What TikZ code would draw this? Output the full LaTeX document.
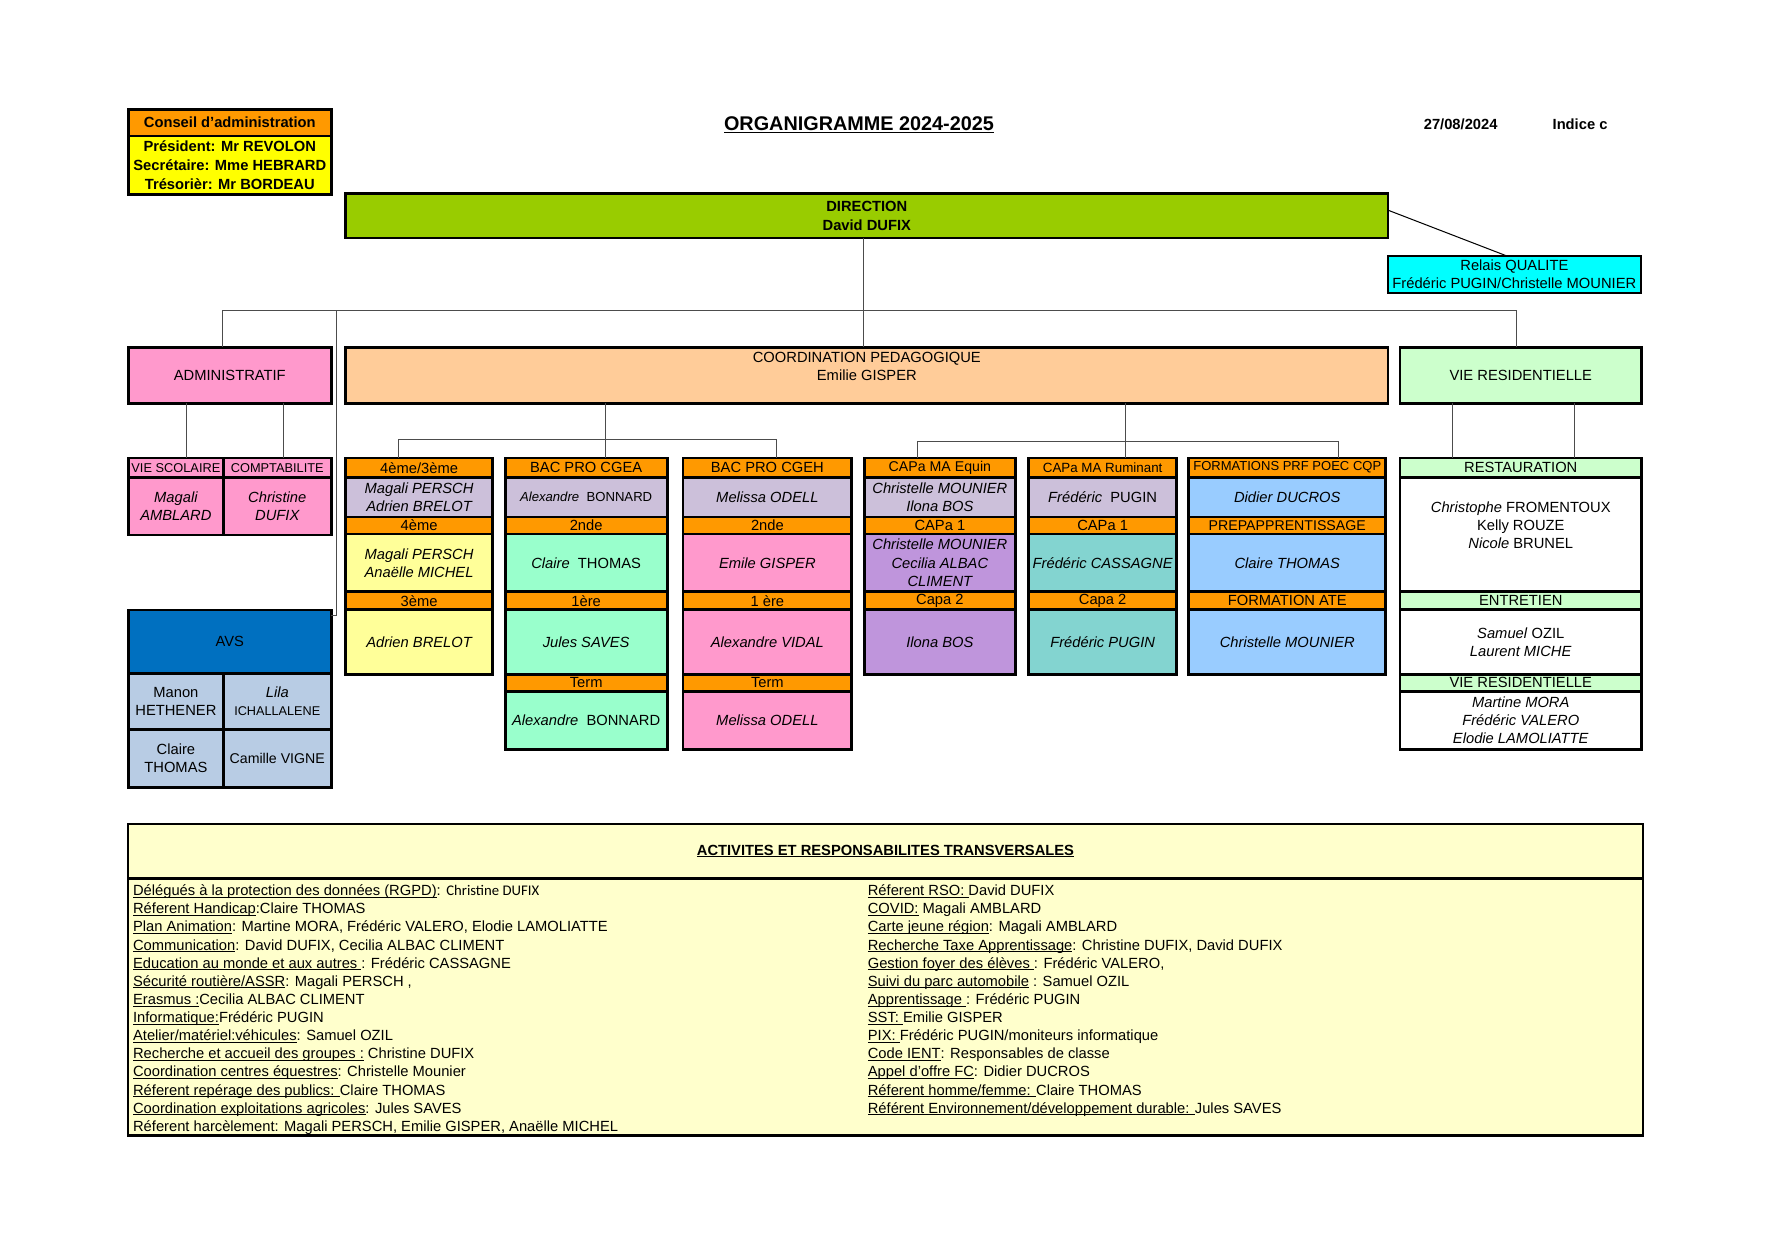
\documentclass[tikz,border=0pt]{standalone}
\usepackage{fontspec}
\setmainfont{Liberation Sans}
\newfontfamily\carlito{Carlito}
\usetikzlibrary{positioning}

\definecolor{orangeT}{HTML}{FF9900}
\definecolor{jauneC}{HTML}{FFFF00}
\definecolor{vertD}{HTML}{99CC00}
\definecolor{cyanQ}{HTML}{00FFFF}
\definecolor{roseA}{HTML}{FF99CC}
\definecolor{pecheC}{HTML}{FFCC99}
\definecolor{vertR}{HTML}{CCFFCC}
\definecolor{lavande}{HTML}{CCC0DA}
\definecolor{jauneP}{HTML}{FFFF99}
\definecolor{menthe}{HTML}{99FFCC}
\definecolor{mauve}{HTML}{BF95DC}
\definecolor{sarcelle}{HTML}{83D4D0}
\definecolor{bleuC}{HTML}{99CCFF}
\definecolor{bleuF}{HTML}{0070C0}
\definecolor{bleuG}{HTML}{B8CCE4}
\definecolor{jauneL}{HTML}{FFFFCC}

\newcommand{\taille}[1]{\fontsize{#1}{16}\selectfont}
\newcommand{\souligne}[1]{\leavevmode\setbox0\hbox{#1}\rlap{\rule[-1.8pt]{\wd0}{0.8pt}}\box0\relax}

\begin{document}
\begin{tikzpicture}[x=1pt, y=-1pt, node distance=0pt]
\tikzset{
    %liaisons
    lien/.style={draw=black!70, line width=0.9pt},
    %cases
    boite/.style={
           draw, line width=2.4pt,
           outer sep=0pt, inner sep=1pt,
           align=center,
           font=\taille{13}},
    tete/.style={boite, fill=orangeT, inner sep=0pt},
    nom/.style={boite, font=\itshape\taille{13}},
    haut/.style={minimum height=#1},
    large/.style={minimum width=#1}
}
\fill[white] (0,0) rectangle (1568,1100);
\useasboundingbox (0,0) rectangle (1568,1100);

%Conseil et titre
\node[boite, fill=orangeT, font=\bfseries\taille{13}, large=179pt, haut=23.5pt, anchor=north west] (conseil) at (113.4,96.5) {Conseil d'administration};
\node[boite, fill=jauneC, font=\bfseries\fontsize{13}{16.8}\selectfont, large=179pt, haut=52pt, below=of conseil] (bureau) {Président: Mr REVOLON\\Secrétaire: Mme HEBRARD\\Trésorièr: Mr BORDEAU};
\node[font=\bfseries\fontsize{17.5}{20}\selectfont, anchor=base] (titre) at (758.4,115.2) {\souligne{ORGANIGRAMME 2024-2025}};
\node[font=\bfseries\taille{13}, anchor=base] (date) at (1289.6,114.2) {27/08/2024};
\node[font=\bfseries\taille{13}, anchor=base] (indice) at (1395,114.2) {Indice c};

%Direction
\node[boite, fill=vertD, font=\bfseries\fontsize{13}{16.7}\selectfont, large=920pt, haut=39pt, anchor=north west] (direction) at (305.3,171) {DIRECTION\\David DUFIX};
\node[boite, fill=cyanQ, line width=1.8pt, large=224pt, haut=32.7pt, anchor=north west] (qualite) at (1225,225.7) {Relais QUALITE\\Frédéric PUGIN/Christelle MOUNIER};

%Services
\node[boite, fill=roseA, large=179pt, haut=49.5pt, anchor=north west] (admin) at (113.4,306.5) {ADMINISTRATIF};
\node[boite, fill=pecheC, large=920pt, haut=49.5pt, anchor=north west] (coordination) at (305.3,306.5) {COORDINATION PEDAGOGIQUE\\Emilie GISPER\\\mbox{}};
\node[boite, fill=vertR, large=213.3pt, haut=49.5pt, anchor=north west] (vieres) at (1236,306.5) {VIE RESIDENTIELLE};

%Administratif
\node[boite, fill=roseA, font=\taille{11.3}, inner sep=0pt, large=83.8pt, haut=17pt, anchor=north west] (scol) at (113.4,404.4) {VIE SCOLAIRE};
\node[nom, fill=roseA, large=83.8pt, haut=51pt, below=of scol] (scolnom) {Magali\\AMBLARD};
\node[boite, fill=roseA, font=\taille{11.3}, inner sep=0pt, large=95.2pt, haut=17pt, right=of scol] (compta) {COMPTABILITE};
\node[nom, fill=roseA, large=95.2pt, haut=51pt, below=of compta] (comptanom) {Christine\\DUFIX};

%AVS
\node[boite, fill=bleuF, large=179pt, haut=56pt, anchor=north west] (avs) at (113.4,538.5) {AVS};
\node[boite, fill=bleuG, large=83.8pt, haut=49.6pt, anchor=north west] (avs1) at (avs.south west) {Manon\\HETHENER};
\node[boite, fill=bleuG, large=95.2pt, haut=49.6pt, right=of avs1] (avs2) {\textit{Lila}\\{\taille{11.2}ICHALLALENE}};
\node[boite, fill=bleuG, large=83.8pt, haut=51.4pt, below=of avs1] (avs3) {Claire\\THOMAS};
\node[boite, fill=bleuG, large=95.2pt, haut=51.4pt, right=of avs3] (avs4) {{\taille{12.5}Camille VIGNE}};

%4eme/3eme
\node[tete, large=130pt, haut=17pt, anchor=north] (qa0) at (370,404.4) {4ème/3ème};
\node[nom, fill=lavande, large=130pt, haut=35pt, below=of qa0] (qa1) {Magali PERSCH\\Adrien BRELOT};
\node[tete, large=130pt, haut=15pt, below=of qa1] (qa2) {4ème};
\node[nom, fill=jauneP, large=130pt, haut=51pt, below=of qa2] (qa3) {Magali PERSCH\\Anaëlle MICHEL};
\node[tete, large=130pt, haut=16pt, below=of qa3] (qa4) {3ème};
\node[nom, fill=jauneP, large=130pt, haut=57pt, below=of qa4] (qa5) {Adrien BRELOT};

%Bac pro CGEA
\node[tete, large=143pt, haut=17pt, anchor=north] (qb0) at (517.5,404.4) {BAC PRO CGEA};
\node[boite, fill=lavande, font=\taille{11.6}, large=143pt, haut=35pt, below=of qb0] (qb1) {\textit{Alexandre}~ BONNARD};
\node[tete, large=143pt, haut=15pt, below=of qb1] (qb2) {2nde};
\node[boite, fill=menthe, large=143pt, haut=51pt, below=of qb2] (qb3) {\textit{Claire}~ THOMAS};
\node[tete, large=143pt, haut=16pt, below=of qb3] (qb4) {1ère};
\node[nom, fill=menthe, large=143pt, haut=57pt, below=of qb4] (qb5) {Jules SAVES};
\node[tete, large=143pt, haut=15pt, below=of qb5] (qb6) {Term};
\node[boite, fill=menthe, large=143pt, haut=51pt, below=of qb6] (qb7) {\textit{Alexandre}~ BONNARD};

%Bac pro CGEH
\node[tete, large=149pt, haut=17pt, anchor=north] (qc0) at (677.5,404.4) {BAC PRO CGEH};
\node[nom, fill=lavande, large=149pt, haut=35pt, below=of qc0] (qc1) {Melissa ODELL};
\node[tete, large=149pt, haut=15pt, below=of qc1] (qc2) {2nde};
\node[nom, fill=roseA, large=149pt, haut=51pt, below=of qc2] (qc3) {Emile GISPER};
\node[tete, large=149pt, haut=16pt, below=of qc3] (qc4) {1 ère};
\node[nom, fill=roseA, large=149pt, haut=57pt, below=of qc4] (qc5) {Alexandre VIDAL};
\node[tete, large=149pt, haut=15pt, below=of qc5] (qc6) {Term};
\node[nom, fill=roseA, large=149pt, haut=51pt, below=of qc6] (qc7) {Melissa ODELL};

%CAPa equin
\node[tete, font=\taille{12.5}, large=133.6pt, haut=17pt, anchor=north] (qd0) at (829.8,404.4) {CAPa MA Equin};
\node[nom, fill=lavande, large=133.6pt, haut=35pt, below=of qd0] (qd1) {Christelle MOUNIER\\Ilona BOS};
\node[tete, large=133.6pt, haut=15pt, below=of qd1] (qd2) {CAPa 1};
\node[nom, fill=mauve, large=133.6pt, haut=51pt, below=of qd2] (qd3) {Christelle MOUNIER\\Cecilia ALBAC\\CLIMENT};
\node[tete, large=133.6pt, haut=16pt, below=of qd3] (qd4) {Capa 2};
\node[nom, fill=mauve, large=133.6pt, haut=57pt, below=of qd4] (qd5) {Ilona BOS};

%CAPa ruminant
\node[tete, font=\taille{11.8}, large=131pt, haut=17pt, anchor=north] (qe0) at (973.5,404.4) {CAPa MA Ruminant};
\node[boite, fill=lavande, large=131pt, haut=35pt, below=of qe0] (qe1) {\textit{Frédéric}~ PUGIN};
\node[tete, large=131pt, haut=15pt, below=of qe1] (qe2) {CAPa 1};
\node[nom, fill=sarcelle, large=131pt, haut=51pt, below=of qe2] (qe3) {Frédéric CASSAGNE};
\node[tete, large=131pt, haut=16pt, below=of qe3] (qe4) {Capa 2};
\node[nom, fill=sarcelle, large=131pt, haut=57pt, below=of qe4] (qe5) {Frédéric PUGIN};

%Formations
\node[tete, font=\taille{11.5}, large=174pt, haut=17pt, anchor=north] (qf0) at (1136.5,404.4) {FORMATIONS PRF POEC CQP};
\node[nom, fill=bleuC, large=174pt, haut=35pt, below=of qf0] (qf1) {Didier DUCROS};
\node[tete, font=\taille{12.5}, large=174pt, haut=15pt, below=of qf1] (qf2) {PREPAPPRENTISSAGE};
\node[nom, fill=bleuC, large=174pt, haut=51pt, below=of qf2] (qf3) {Claire THOMAS};
\node[tete, large=174pt, haut=16pt, below=of qf3] (qf4) {FORMATION ATE};
\node[nom, fill=bleuC, large=174pt, haut=57pt, below=of qf4] (qf5) {Christelle MOUNIER};

%Vie residentielle
\node[boite, fill=vertR, inner sep=0pt, large=213.3pt, haut=17pt, anchor=north west] (resto) at (1236,404.4) {RESTAURATION};
\node[boite, fill=white, large=213.3pt, haut=101pt, below=of resto] (restonom) {\textit{Christophe} FROMENTOUX\\Kelly ROUZE\\\textit{Nicole} BRUNEL\\\mbox{}};
\node[boite, fill=vertR, inner sep=0pt, large=213.3pt, haut=16pt, below=of restonom] (entretien) {ENTRETIEN};
\node[boite, fill=white, large=213.3pt, haut=57pt, below=of entretien] (entretiennom) {\textit{Samuel} OZIL\\\textit{Laurent MICHE}};
\node[boite, fill=vertR, inner sep=0pt, large=213.3pt, haut=15pt, below=of entretiennom] (residence) {VIE RESIDENTIELLE};
\node[nom, fill=white, large=213.3pt, haut=51pt, below=of residence] (residencenom) {Martine MORA\\Frédéric VALERO\\Elodie LAMOLIATTE};

%Activites transversales
\node[boite, fill=jauneL, font=\bfseries\taille{13}, large=1337.5pt, haut=48pt, anchor=north west] (acttitre) at (113,727.5) {\souligne{ACTIVITES ET RESPONSABILITES TRANSVERSALES}};
\node[boite, fill=jauneL, large=1337.5pt, haut=227pt, below=of acttitre] (actzone) {};
%ancre sur la derniere ligne
\node[font=\taille{13}, align=left, anchor=base west, inner sep=0pt] (liste1) at (117.3,998.8) {%
\souligne{Délégués à la protection des données (RGPD)}: {\carlito Christine DUFIX}\\
\souligne{Réferent Handicap}:Claire THOMAS\\
\souligne{Plan Animation}: Martine MORA, Frédéric VALERO, Elodie LAMOLIATTE\\
\souligne{Communication}: David DUFIX, Cecilia ALBAC CLIMENT\\
\souligne{Education au monde et aux autres }: Frédéric CASSAGNE\\
\souligne{Sécurité routière/ASSR}: Magali PERSCH ,\\
\souligne{Erasmus :}Cecilia ALBAC CLIMENT\\
\souligne{Informatique:}Frédéric PUGIN\\
\souligne{Atelier/matériel:véhicules}: Samuel OZIL\\
\souligne{Recherche et accueil des groupes :} Christine DUFIX\\
\souligne{Coordination centres équestres}: Christelle Mounier\\
\souligne{Réferent repérage des publics: }Claire THOMAS\\
\souligne{Coordination exploitations agricoles}: Jules SAVES\\
Réferent harcèlement: Magali PERSCH, Emilie GISPER, Anaëlle MICHEL};
\node[font=\taille{13}, align=left, anchor=base west, inner sep=0pt] (liste2) at (766,982.8) {%
\souligne{Réferent RSO: }David DUFIX\\
\souligne{COVID:} Magali AMBLARD\\
\souligne{Carte jeune région}: Magali AMBLARD\\
\souligne{Recherche Taxe Apprentissage}: Christine DUFIX, David DUFIX\\
\souligne{Gestion foyer des élèves }: Frédéric VALERO,\\
\souligne{Suivi du parc automobile} : Samuel OZIL\\
\souligne{Apprentissage }: Frédéric PUGIN\\
\souligne{SST: }Emilie GISPER\\
\souligne{PIX: }Frédéric PUGIN/moniteurs informatique\\
\souligne{Code IENT}: Responsables de classe\\
\souligne{Appel d'offre FC}: Didier DUCROS\\
\souligne{Réferent homme/femme: }Claire THOMAS\\
\souligne{Référent Environnement/développement durable: }Jules SAVES};

%Liaisons
\coordinate (bg) at (196.5,273.7);
\coordinate (bd) at (1339,273.7);
\coordinate (bc) at (762.4,273.7);
\coordinate (bv) at (297.2,273.7);
\coordinate (ja1) at (164.8,380);
\coordinate (ja2) at (250.1,380);
\coordinate (ka) at (351.5,387.9);
\coordinate (kb) at (534.3,387.9);
\coordinate (kc) at (685.8,387.9);
\coordinate (kd) at (810,389.9);
\coordinate (ke) at (993.4,389.9);
\coordinate (kf) at (1181.3,389.9);
\coordinate (kg1) at (1282.2,380);
\coordinate (kg2) at (1389.9,380);

\draw[line width=0.9pt] ([yshift=5pt]direction.east) -- ([xshift=-7.4pt]qualite.north);
\draw[lien] (direction.south -| bc) -- (coordination.north -| bc);
\draw[lien] (admin.north -| bg) -- (bg) -- (bd) -- (vieres.north -| bd);
\draw[lien] (bv) |- ([yshift=-4.5pt]avs.north east);
\draw[lien] (admin.south -| ja1) -- (scol.north -| ja1);
\draw[lien] (admin.south -| ja2) -- (compta.north -| ja2);
\draw[lien] (coordination.south -| kb) -- (qb0.north -| kb);
\draw[lien] (qa0.north -| ka) -- (ka) -- (kc) -- (qc0.north -| kc);
\draw[lien] (coordination.south -| ke) -- (qe0.north -| ke);
\draw[lien] (qd0.north -| kd) -- (kd) -- (kf) -- (qf0.north -| kf);
\draw[lien] (vieres.south -| kg1) -- (resto.north -| kg1);
\draw[lien] (vieres.south -| kg2) -- (resto.north -| kg2);
\end{tikzpicture}
\end{document}
